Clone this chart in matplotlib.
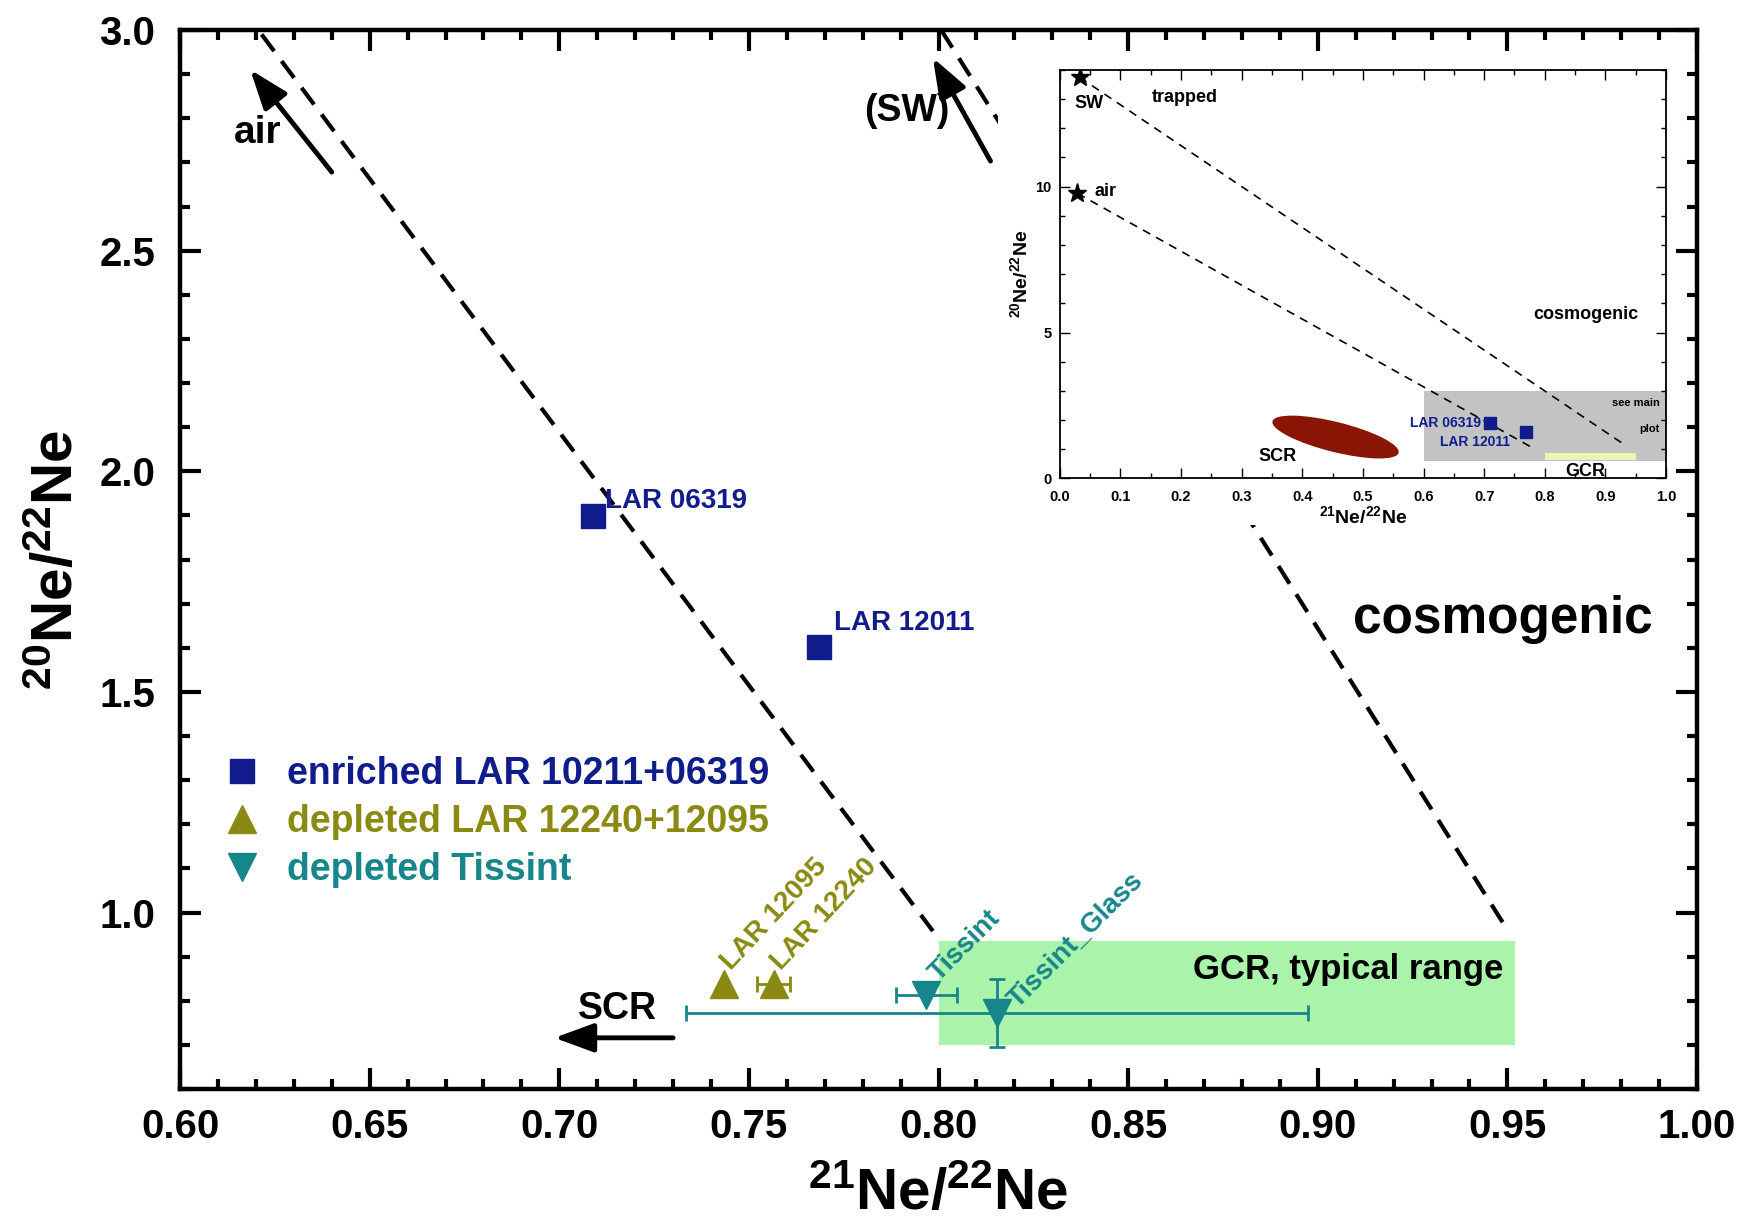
import numpy as np
import matplotlib
matplotlib.use('Agg')
import matplotlib.pyplot as plt
from matplotlib.patches import Rectangle, Ellipse
from matplotlib.transforms import ScaledTranslation
from matplotlib.ticker import MultipleLocator, FormatStrFormatter

plt.rcParams['font.family'] = ['Liberation Sans', 'DejaVu Sans']
plt.rcParams['font.weight'] = 'bold'
plt.rcParams['axes.labelweight'] = 'bold'
plt.rcParams['mathtext.fontset'] = 'custom'
plt.rcParams['mathtext.rm'] = 'Liberation Sans:bold'
plt.rcParams['mathtext.bf'] = 'Liberation Sans:bold'
plt.rcParams['mathtext.it'] = 'Liberation Sans:bold'

# colours
navy = '#101c8c'
olive = '#8a8a12'
teal = '#17868a'

# --- data (21Ne/22Ne, 20Ne/22Ne) ---
enr_names = ['LAR 06319', 'LAR 12011']
enr_x = [0.709, 0.7685]
enr_y = [1.898, 1.602]

dep_names = ['LAR 12095', 'LAR 12240']
dep_x = [0.7435, 0.7565]
dep_y = [0.838, 0.838]
dep_xerr = [0.0, 0.0043]

tis_names = ['Tissint', 'Tissint_Glass']
tis_x = [0.7968, 0.8155]
tis_y = [0.812, 0.772]
tis_xerr = [0.008, 0.082]
tis_yerr = [0.0, 0.0775]

# mixing lines in main plot (air / SW -> cosmogenic)
air_line_x = [0.6215, 0.7985]
air_line_y = [2.99, 0.958]
sw_line_x = [0.8007, 0.9502]
sw_line_y = [3.00, 0.958]

# GCR typical range box
gcr_x = [0.80, 0.952]
gcr_y = [0.70, 0.935]

# inset data
trap_names = ['SW', 'air']
trap_x = [0.033, 0.0295]
trap_y = [13.75, 9.77]
inset_end_x = [0.934, 0.779]
inset_end_y = [1.12, 1.06]
inset_gcr_x = [0.80, 0.95]
inset_gcr_y = [0.63, 0.87]
scr_center = (0.455, 1.42)

fig = plt.figure(figsize=(17.45, 12.25), dpi=100)
ax = fig.add_axes([0.1032, 0.111, 0.8693, 0.8645])

ax.add_patch(Rectangle((gcr_x[0], gcr_y[0]), gcr_x[1] - gcr_x[0], gcr_y[1] - gcr_y[0],
                       facecolor='#aaf3aa', edgecolor='none', zorder=0.5))
ax.text(gcr_x[1] - 0.003, 0.872, 'GCR, typical range', fontsize=25, ha='right', va='center')

ax.plot(air_line_x, air_line_y, color='k', lw=3, ls=(0, (5, 3)), zorder=2)
ax.plot(sw_line_x, sw_line_y, color='k', lw=3, ls=(0, (5, 3)), zorder=2)

# white area behind inset (covers mixing line)
ax.add_patch(Rectangle((0.539, 0.533), 0.461, 0.467, transform=ax.transAxes,
                       facecolor='white', edgecolor='none', zorder=2.2))
ax.set_axisbelow(False)

# data points
ax.plot(enr_x, enr_y, 's', color=navy, ms=17, ls='none', label='enriched LAR 10211+06319', zorder=3)
ax.errorbar(dep_x, dep_y, xerr=dep_xerr, fmt='none', ecolor=olive, elinewidth=2, capsize=6, capthick=2, zorder=3)
ax.plot(dep_x, dep_y, '^', color=olive, ms=20, ls='none', label='depleted LAR 12240+12095', zorder=3)
ax.errorbar(tis_x, tis_y, xerr=tis_xerr, yerr=tis_yerr, fmt='none', ecolor=teal, elinewidth=2,
            capsize=6, capthick=2, zorder=3)
ax.plot(tis_x, tis_y, 'v', color=teal, ms=20, ls='none', label='depleted Tissint', zorder=3)

ax.text(enr_x[0] + 0.003, enr_y[0] + 0.035, enr_names[0], color=navy, fontsize=20, ha='left', va='center')
ax.text(enr_x[1] + 0.004, enr_y[1] + 0.055, enr_names[1], color=navy, fontsize=20, ha='left', va='center')
for n, x, y in zip(dep_names, dep_x, dep_y):
    ax.text(x + 0.003, y + 0.02, n, color=olive, fontsize=20, rotation=47,
            rotation_mode='anchor', ha='left', va='bottom')
ax.text(tis_x[0] + 0.0045, tis_y[0] + 0.02, tis_names[0], color=teal, fontsize=20, rotation=45,
        rotation_mode='anchor', ha='left', va='bottom')
ax.text(tis_x[1] + 0.0065, tis_y[1] + 0.0, tis_names[1], color=teal, fontsize=20, rotation=45,
        rotation_mode='anchor', ha='left', va='bottom')

ax.text(0.9487, 1.665, 'cosmogenic', fontsize=37, ha='center', va='center')

arrow = dict(arrowstyle='-|>,head_length=0.6,head_width=0.22', lw=3.5, color='k',
             mutation_scale=40, shrinkA=0, shrinkB=0)
ax.annotate('', xy=(0.6185, 2.91), xytext=(0.640, 2.678), arrowprops=arrow)
ax.annotate('', xy=(0.7985, 2.937), xytext=(0.8137, 2.703), arrowprops=arrow)
ax.annotate('', xy=(0.6987, 0.716), xytext=(0.730, 0.716), arrowprops=arrow)
ax.text(0.6205, 2.766, 'air', fontsize=28, ha='center', va='center')
ax.text(0.7917, 2.817, '(SW)', fontsize=27, ha='center', va='center')
ax.text(0.7154, 0.782, 'SCR', fontsize=27, ha='center', va='center')

ax.set_xlim(0.60, 1.00)
ax.set_ylim(0.60, 3.00)
ax.xaxis.set_major_locator(MultipleLocator(0.05))
ax.xaxis.set_minor_locator(MultipleLocator(0.01))
ax.yaxis.set_major_locator(MultipleLocator(0.5))
ax.yaxis.set_minor_locator(MultipleLocator(0.1))
ax.xaxis.set_major_formatter(FormatStrFormatter('%.2f'))
ax.yaxis.set_major_formatter(FormatStrFormatter('%.1f'))
ax.tick_params(which='both', direction='in', top=True, right=True, width=3, labelsize=29)
ax.tick_params(which='major', length=15)
ax.tick_params(which='minor', length=7)
ax.tick_params(axis='x', pad=14)
ax.tick_params(axis='y', pad=18)
for s in ax.spines.values():
    s.set_linewidth(3.2)
ax.set_xlabel(r'$^{21}$Ne/$^{22}$Ne', fontsize=42, fontweight='bold', labelpad=15)
ax.set_ylabel(r'$^{20}$Ne/$^{22}$Ne', fontsize=42, fontweight='bold', labelpad=10)

leg = ax.legend(loc='upper left', bbox_to_anchor=(0.016, 0.3325), frameon=False, fontsize=27,
                handletextpad=0.7, labelspacing=0.33, borderpad=0, handlelength=1.0,
                labelcolor='markerfacecolor')

# --- inset ---
ai = fig.add_axes([0.6072, 0.6094, 0.3476, 0.3335])
ai.add_patch(Rectangle((0.6, 0.6), 0.4, 2.4, facecolor='#c3c3c3', edgecolor='none', zorder=0.5))
ai.add_patch(Rectangle((inset_gcr_x[0], inset_gcr_y[0]), inset_gcr_x[1] - inset_gcr_x[0],
                       inset_gcr_y[1] - inset_gcr_y[0], facecolor='#e8f6b0', edgecolor='none', zorder=0.6))
ell_tr = fig.dpi_scale_trans + ScaledTranslation(scr_center[0], scr_center[1], ai.transData)
ai.add_patch(Ellipse((0, 0), 1.3, 0.3, angle=-14, facecolor='#8a1505', edgecolor='none',
                     transform=ell_tr, zorder=1))
for i in range(2):
    ai.plot([trap_x[i], inset_end_x[i]], [trap_y[i], inset_end_y[i]], color='k', lw=1.2,
            ls=(0, (5, 4)), zorder=2)
ai.plot(trap_x, trap_y, '*', color='k', ms=14, ls='none', zorder=3)
ai.plot(enr_x, enr_y, 's', color=navy, ms=8, ls='none', zorder=3)

ai.text(0.048, 12.85, trap_names[0], fontsize=13, ha='center', va='center')
ai.text(0.058, 9.85, trap_names[1], fontsize=13, ha='left', va='center')
ai.text(0.207, 13.06, 'trapped', fontsize=13, ha='center', va='center')
ai.text(0.867, 5.63, 'cosmogenic', fontsize=13, ha='center', va='center')
ai.text(0.36, 0.75, 'SCR', fontsize=13, ha='center', va='center')
ai.text(0.867, 0.25, 'GCR', fontsize=13, ha='center', va='center')
ai.text(0.99, 2.6, 'see main', fontsize=8, ha='right', va='center')
ai.text(0.99, 1.7, 'plot', fontsize=8, ha='right', va='center')
ai.text(0.695, 1.9, enr_names[0], color=navy, fontsize=10, ha='right', va='center')
ai.text(0.742, 1.25, enr_names[1], color=navy, fontsize=10, ha='right', va='center')

ai.set_xlim(0, 1.0)
ai.set_ylim(0, 14)
ai.xaxis.set_major_locator(MultipleLocator(0.1))
ai.xaxis.set_minor_locator(MultipleLocator(0.05))
ai.yaxis.set_major_locator(MultipleLocator(5))
ai.yaxis.set_minor_locator(MultipleLocator(1))
ai.xaxis.set_major_formatter(FormatStrFormatter('%.1f'))
ai.tick_params(which='both', direction='in', top=True, right=True, width=1, labelsize=10.5)
ai.tick_params(which='major', length=7)
ai.tick_params(which='minor', length=3.5)
ai.tick_params(axis='x', pad=8)
ai.tick_params(axis='y', pad=6)
for s in ai.spines.values():
    s.set_linewidth(1.3)
ai.set_xlabel(r'$^{21}$Ne/$^{22}$Ne', fontsize=14, fontweight='bold', labelpad=1)
ai.set_ylabel(r'$^{20}$Ne/$^{22}$Ne', fontsize=14, fontweight='bold', labelpad=3)

fig.savefig('out.png', dpi=100)
